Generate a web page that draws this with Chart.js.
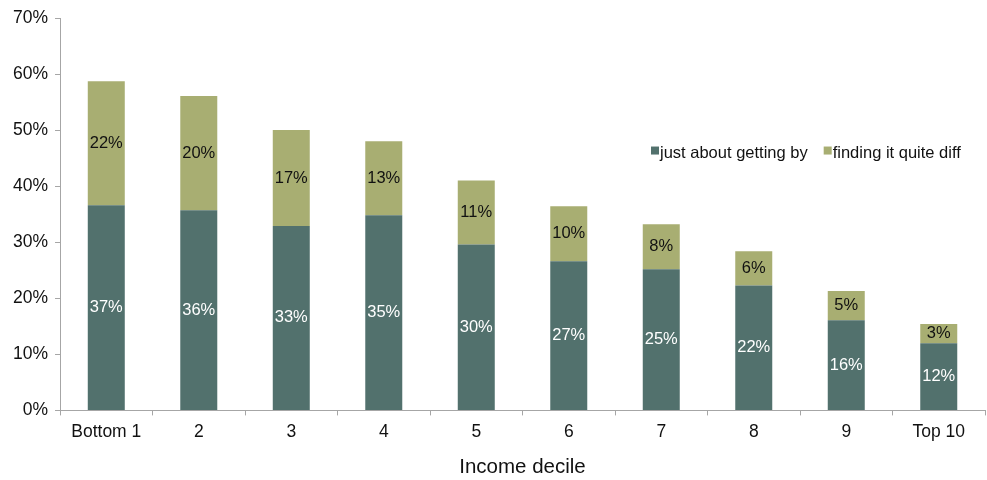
<!DOCTYPE html>
<html>
<head>
<meta charset="utf-8">
<script src="https://cdn.jsdelivr.net/npm/chart.js@4.4.0/dist/chart.umd.min.js"></script>
<style>
  html, body { margin: 0; padding: 0; background: #fff; }
  #wrap { width: 987px; height: 480px; }
</style>
</head>
<body>
<div id="wrap"><canvas id="chart"></canvas></div>
<script>
// values (percent)
const deciles = ["Bottom 1", "2", "3", "4", "5", "6", "7", "8", "9", "Top 10"];
const gettingBy = [36.6, 35.7, 32.9, 34.8, 29.6, 26.6, 25.2, 22.3, 16.1, 12.0];
const quiteDifficult = [22.1, 20.4, 17.1, 13.2, 11.4, 9.8, 8.0, 6.1, 5.2, 3.4];
const yTicks = [0, 10, 20, 30, 40, 50, 60, 70];

const seriesNames = ["just about getting by", "finding it quite diff"];
const colors = ["#52716d", "#a8ae72"];
const fontFamily = "'Liberation Sans', Arial, sans-serif";

// draws the rounded value in the middle of each segment
const segmentLabels = {
    id: "segmentLabels",
    afterDatasetsDraw(chart) {
        const ctx = chart.ctx;
        ctx.save();
        ctx.font = "16.5px " + fontFamily;
        ctx.textAlign = "center";
        ctx.textBaseline = "middle";
        chart.data.datasets.forEach(function(ds, i) {
            const meta = chart.getDatasetMeta(i);
            ctx.fillStyle = i === 0 ? "#ffffff" : "#111111";
            meta.data.forEach(function(bar, j) {
                const mid = (bar.y + bar.base) / 2;
                ctx.fillText(Math.round(ds.data[j]) + "%", bar.x, mid);
            });
        });
        ctx.restore();
    }
};

// legend sits inside the plot, on the right
const insideLegend = {
    id: "insideLegend",
    afterDraw(chart) {
        const ctx = chart.ctx;
        const y = chart.scales.y.getPixelForValue(46);
        let x = 651;
        ctx.save();
        ctx.font = "16.5px " + fontFamily;
        ctx.textBaseline = "middle";
        chart.data.datasets.forEach(function(ds) {
            ctx.fillStyle = ds.backgroundColor;
            ctx.fillRect(x, y - 6, 8, 8);
            ctx.fillStyle = "#111111";
            ctx.fillText(ds.label, x + 9, y + 1);
            x += 9 + ctx.measureText(ds.label).width + 16;
        });
        ctx.restore();
    }
};

new Chart(document.getElementById("chart"), {
    type: "bar",
    data: {
        labels: deciles,
        datasets: [
            { label: seriesNames[0], data: gettingBy, backgroundColor: colors[0] },
            { label: seriesNames[1], data: quiteDifficult, backgroundColor: colors[1] }
        ]
    },
    options: {
        responsive: true,
        maintainAspectRatio: false,
        animation: false,
        datasets: { bar: { categoryPercentage: 1, barPercentage: 0.4, borderWidth: 0 } },
        layout: { padding: { top: 18, right: 2, left: 6, bottom: 0 } },
        plugins: {
            legend: { display: false },
            tooltip: { enabled: false }
        },
        scales: {
            x: {
                stacked: true,
                grid: { drawOnChartArea: false, drawTicks: true, tickLength: 5, color: "#a6a6a6" },
                border: { color: "#a6a6a6" },
                ticks: { color: "#111", font: { family: fontFamily, size: 17.5 }, padding: 6, maxRotation: 0 },
                title: { display: true, text: "Income decile", color: "#111", font: { family: fontFamily, size: 20.5 }, padding: { top: 7, bottom: 0 } }
            },
            y: {
                stacked: true,
                min: 0,
                max: 70,
                afterBuildTicks: function(axis) {
                    axis.ticks = yTicks.map(function(v) { return { value: v }; });
                },
                grid: { drawOnChartArea: false, drawTicks: true, tickLength: 5, color: "#a6a6a6" },
                border: { color: "#a6a6a6" },
                ticks: {
                    color: "#111",
                    font: { family: fontFamily, size: 17.5 },
                    padding: 7,
                    callback: function(v) { return v + "%"; }
                }
            }
        }
    },
    plugins: [segmentLabels, insideLegend]
});
</script>
</body>
</html>
